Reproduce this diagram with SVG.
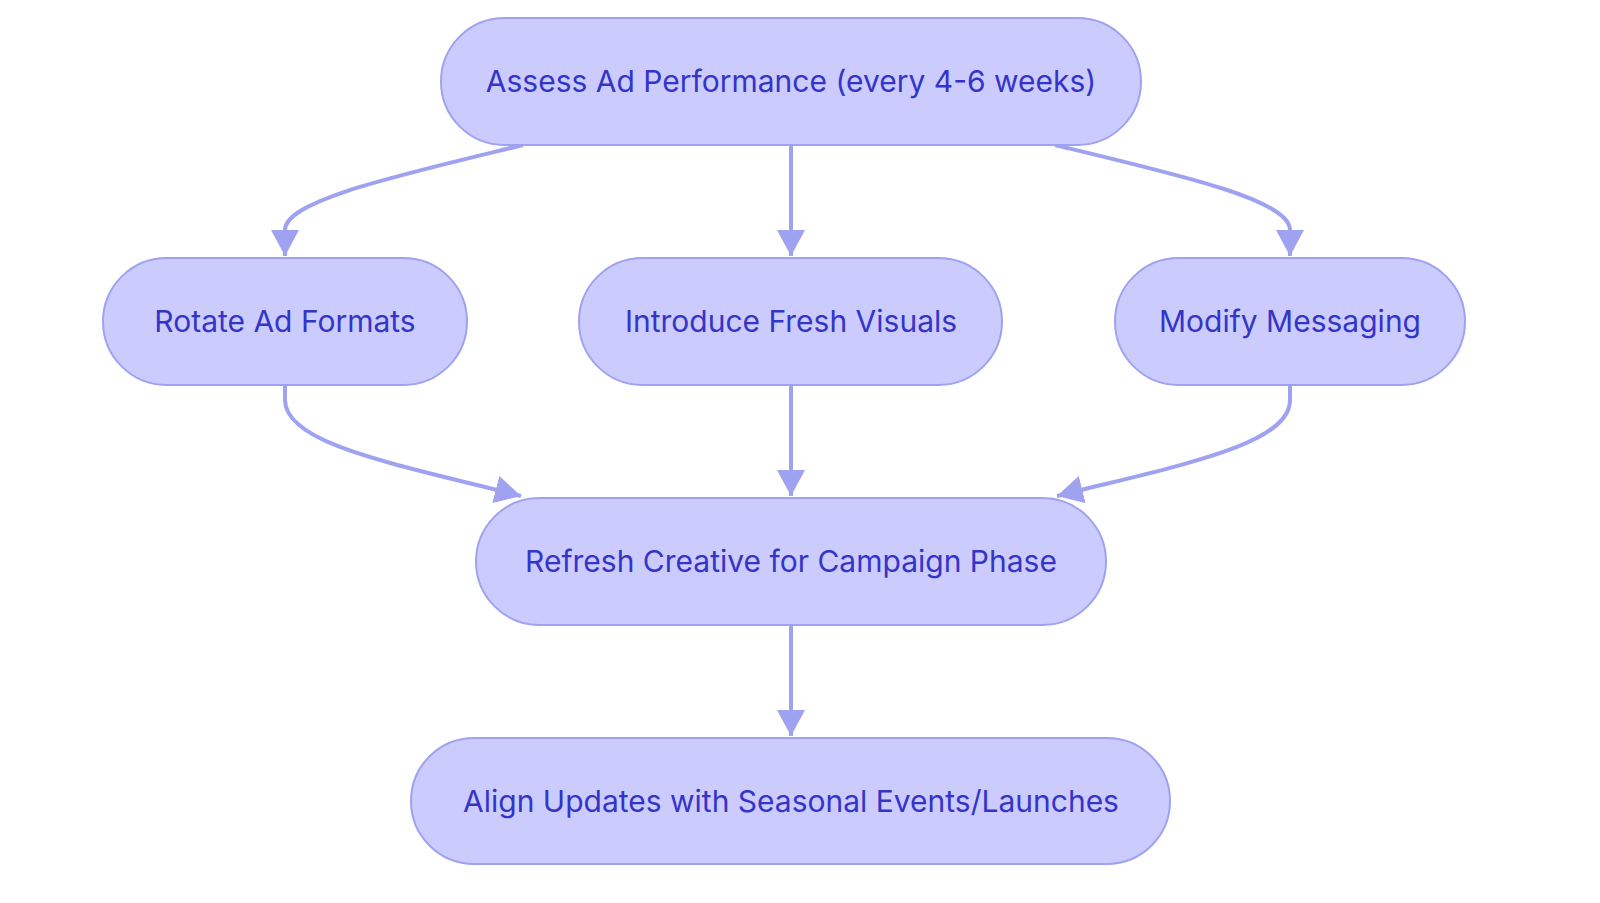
<svg xmlns="http://www.w3.org/2000/svg" width="1600" height="903" viewBox="0 0 1600 903">
<style>
.n rect{fill:#cbccfd;stroke:#9ea2f0;stroke-width:2}
.n text{font-family:Inter,"Noto Sans",sans-serif;font-size:30px;fill:#3434c9;text-anchor:middle;dominant-baseline:central}
.e path{fill:none;stroke:#9ea2f0;stroke-width:4}
</style>
<defs><marker id="m" viewBox="0 0 28 28" refX="26" refY="14" markerWidth="28" markerHeight="28" markerUnits="userSpaceOnUse" orient="auto"><path d="M0,0L26,14L0,28z" fill="#9ea2f0"/></marker></defs>
<g class="e">
<path d="M523,145 C400,175 285,200 285,230 L285,256" marker-end="url(#m)"/>
<path d="M791,145 L791,256" marker-end="url(#m)"/>
<path d="M1055,145 C1180,175 1290,200 1290,230 L1290,256" marker-end="url(#m)"/>
<path d="M285,385 L285,400 C285,445 400,465 521,496" marker-end="url(#m)"/>
<path d="M791,385 L791,496" marker-end="url(#m)"/>
<path d="M1290,385 L1290,400 C1290,445 1180,465 1057,496" marker-end="url(#m)"/>
<path d="M791,625 L791,736" marker-end="url(#m)"/>
</g>
<g id="n1" class="n"><rect x="441" y="18" width="700" height="127" rx="63.5"/><text x="791" y="81">Assess Ad Performance (every 4-6 weeks)</text></g>
<g id="n2" class="n"><rect x="103" y="258" width="364" height="127" rx="63.5"/><text x="285" y="321">Rotate Ad Formats</text></g>
<g id="n3" class="n"><rect x="579" y="258" width="423" height="127" rx="63.5"/><text x="791" y="321">Introduce Fresh Visuals</text></g>
<g id="n4" class="n"><rect x="1115" y="258" width="350" height="127" rx="63.5"/><text x="1290" y="321">Modify Messaging</text></g>
<g id="n5" class="n"><rect x="476" y="498" width="630" height="127" rx="63.5"/><text x="791" y="561">Refresh Creative for Campaign Phase</text></g>
<g id="n6" class="n"><rect x="411" y="738" width="759" height="126" rx="63"/><text x="791" y="801">Align Updates with Seasonal Events/Launches</text></g>
</svg>
